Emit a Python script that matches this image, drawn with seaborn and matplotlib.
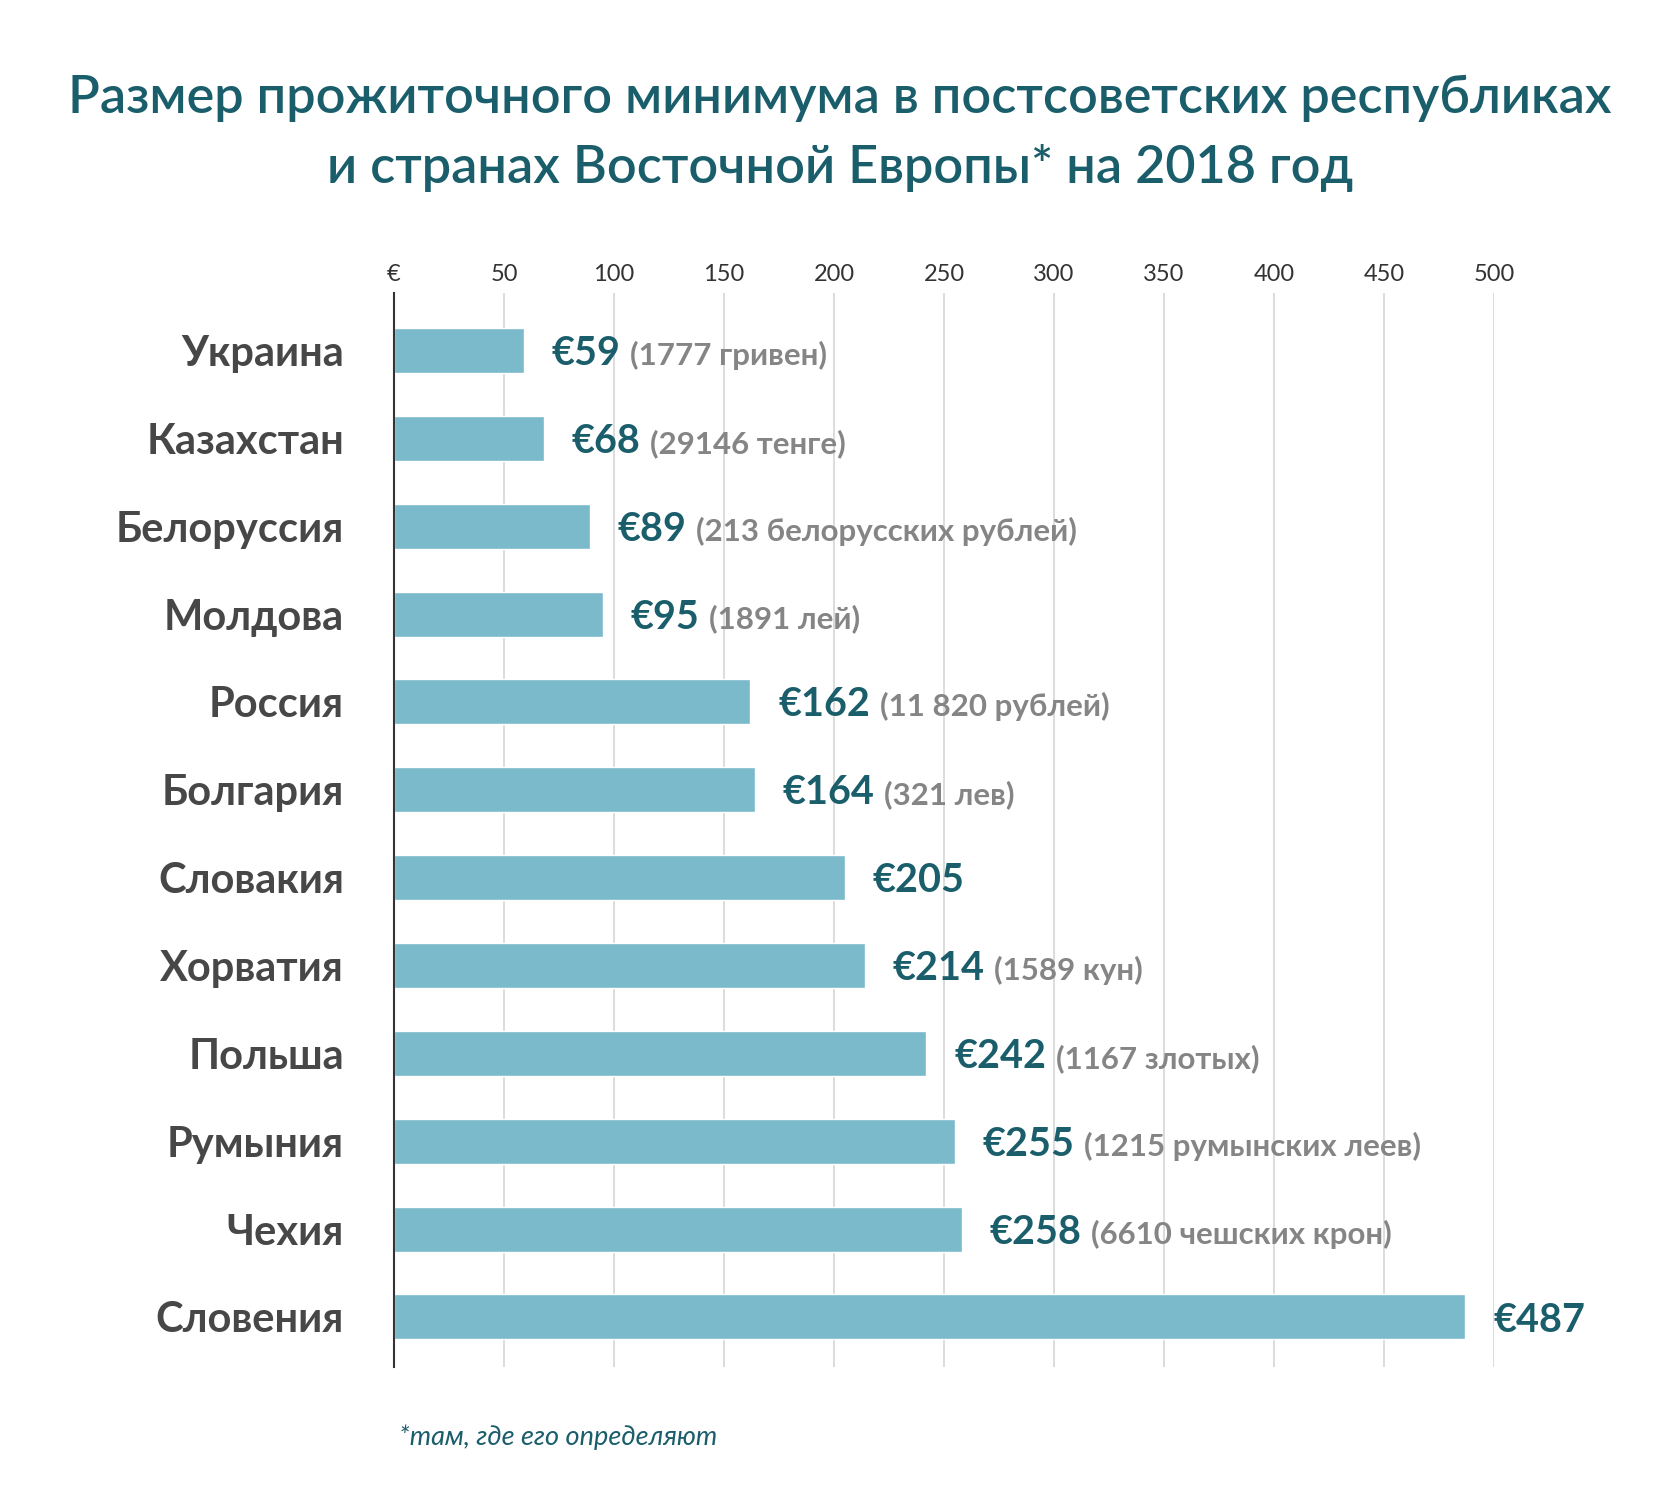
"""
Subsistence minimum in post-Soviet and Eastern European countries, 2018.
"""
import numpy as np
import pandas as pd
import seaborn as sns
import matplotlib.pyplot as plt

countries = ["Украина", "Казахстан", "Белоруссия", "Молдова", "Россия", "Болгария",
             "Словакия", "Хорватия", "Польша", "Румыния", "Чехия", "Словения"]
euro = [59, 68, 89, 95, 162, 164, 205, 214, 242, 255, 258, 487]
local = ["(1777 гривен)", "(29146 тенге)", "(213 белорусских рублей)", "(1891 лей)",
         "(11 820 рублей)", "(321 лев)", "", "(1589 кун)", "(1167 злотых)",
         "(1215 румынских леев)", "(6610 чешских крон)", ""]
xticks = [0, 50, 100, 150, 200, 250, 300, 350, 400, 450, 500]
xticklabels = ["€", "50", "100", "150", "200", "250", "300", "350", "400", "450", "500"]

TEAL = "#1b5e6b"
BAR = "#7bbacb"
FONT = ["Lato", "DejaVu Sans"]


def main():
    df = pd.DataFrame({"country": countries, "euro": euro, "local": local})

    sns.set_style("white")
    plt.rcParams["font.family"] = FONT

    fig = plt.figure(figsize=(16.8, 15.04), dpi=100)
    ax = fig.add_axes([0.2345, 0.0911, 0.6548, 0.7141])

    sns.barplot(data=df, x="euro", y="country", orient="h", color=BAR,
                saturation=1, width=0.512, ax=ax)

    ax.set_xlim(0, 500)
    ax.set_ylim(11.569, -0.654)
    ax.set_xlabel("")
    ax.set_ylabel("")

    ax.xaxis.tick_top()
    ax.set_xticks(xticks)
    ax.set_xticklabels(xticklabels)
    ax.tick_params(axis="x", length=0, pad=6, labelsize=17, labelcolor="#333333")
    ax.tick_params(axis="y", length=0, pad=36, labelsize=30, labelcolor="#474747")
    for lab in ax.get_yticklabels():
        lab.set_fontweight("bold")

    ax.grid(axis="x", color="#d9d9d9", linewidth=1.3)
    ax.grid(axis="y", visible=False)
    ax.set_axisbelow(True)
    for side in ["top", "right", "bottom"]:
        ax.spines[side].set_visible(False)
    ax.spines["left"].set_color("#333333")
    ax.spines["left"].set_linewidth(1.5)

    # value labels
    value_texts = []
    for i, v in enumerate(df["euro"]):
        t = ax.annotate(f"€{v}", xy=(v, i), xytext=(20, -10.5),
                        textcoords="offset points", va="baseline", ha="left",
                        fontsize=28.5, fontweight="bold", color=TEAL,
                        annotation_clip=False)
        value_texts.append(t)

    fig.canvas.draw()
    renderer = fig.canvas.get_renderer()
    inv = ax.transData.inverted()
    for i, (t, loc) in enumerate(zip(value_texts, df["local"])):
        if not loc:
            continue
        bb = t.get_window_extent(renderer)
        x_end = inv.transform((bb.x1, 0))[0]
        ax.annotate(loc, xy=(x_end, i), xytext=(7, -10.5),
                    textcoords="offset points", va="baseline", ha="left",
                    fontsize=22.5, fontweight="bold", color="#858585",
                    annotation_clip=False)

    fig.text(0.5, 1 - 98 / 1504, "Размер прожиточного минимума в постсоветских республиках",
             ha="center", va="center", fontsize=37.5, color=TEAL, fontweight="semibold")
    fig.text(0.5, 1 - 168 / 1504, "и странах Восточной Европы* на 2018 год",
             ha="center", va="center", fontsize=37.5, color=TEAL, fontweight="semibold")
    fig.text(0.2375, 1 - 1437 / 1504, "*там, где его определяют",
             ha="left", va="center", fontsize=19.5, color=TEAL, style="italic")

    fig.savefig("out.png", dpi=100, facecolor="white")


if __name__ == "__main__":
    main()
